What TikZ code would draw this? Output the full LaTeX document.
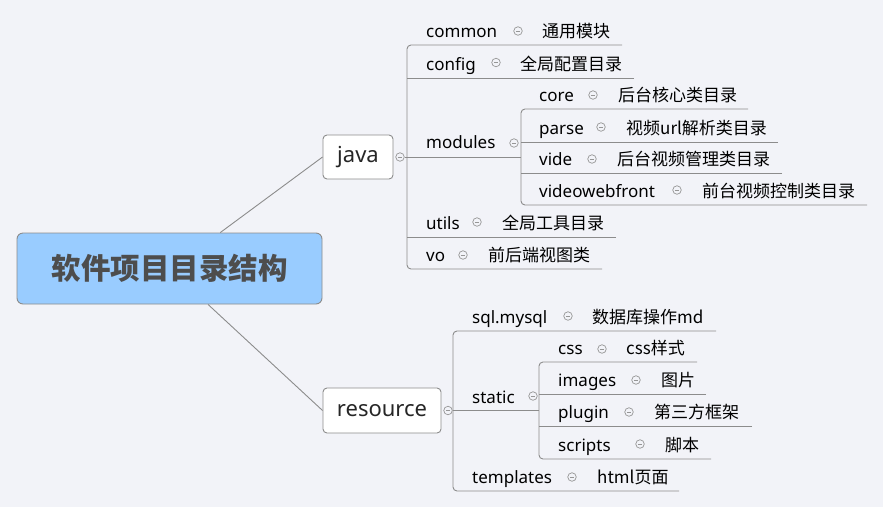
\documentclass[tikz,border=0pt]{standalone}
\usepackage{fontspec}
\setmainfont{Noto Sans}
\newfontfamily\cjk{Noto Sans CJK SC}
\usetikzlibrary{calc}
\definecolor{bg}{RGB}{242,243,248}
\definecolor{ln}{RGB}{140,140,140}
\definecolor{rootfill}{RGB}{153,204,255}
\definecolor{roottext}{RGB}{77,77,77}
\definecolor{tg}{RGB}{150,150,150}
\begin{document}
\begin{tikzpicture}[x=1pt,y=-1pt,
  conn/.style={draw=ln, line width=0.9pt},
  bracket/.style={conn, rounded corners=4pt},
  rootbox/.style={draw=ln, fill=rootfill, rounded corners=6pt, line width=0.9pt, minimum width=305pt, minimum height=71pt, inner sep=0pt, font=\cjk\bfseries\fontsize{29.5}{30}\selectfont, text=roottext},
  mainbox/.style={draw=ln, fill=white, rounded corners=4pt, line width=0.9pt, inner sep=0pt, font=\fontsize{22}{24}\selectfont, text=black!85},
  en/.style={anchor=base west, inner sep=0pt, font=\fontsize{17}{18}\selectfont},
  zh/.style={anchor=base west, inner sep=0pt, font=\cjk\fontsize{17}{18}\selectfont},
  tog/.style={circle, draw=tg, fill=bg, line width=0.7pt, minimum size=8.5pt, inner sep=0pt,
    path picture={\draw[tg, line width=0.7pt] ([xshift=2.2pt]path picture bounding box.west) -- ([xshift=-2.2pt]path picture bounding box.east);}}
]
\fill[bg] (0,0) rectangle (883,507);
\useasboundingbox (0,0) rectangle (883,507);

% main boxes
\node[rootbox] (root) at (169.5,268.5) {软件项目目录结构};
\node[mainbox, minimum width=70pt, minimum height=44pt] (java) at (358,157) {java};
\node[mainbox, minimum width=118pt, minimum height=45pt] (res) at (382,410.5) {resource};
\draw[conn] ($(root.north west)!0.666!(root.north east)$) -- (java.west);
\draw[conn] ($(root.south west)!0.626!(root.south east)$) -- (res.west);

% ---------- java group ----------
\coordinate (jv) at (407,157);
\coordinate (mv) at (521,157);
\coordinate (common-e) at (622,45);
\coordinate (config-e) at (634,78);
\coordinate (utils-e) at (616,237);
\coordinate (vo-e) at (602,269);
\coordinate (core-e) at (748,109);
\coordinate (parse-e) at (778,142);
\coordinate (vide-e) at (782,173);
\coordinate (vwf-e) at (867,205);

\draw[bracket] (common-e) -| (jv) |- (vo-e);
\draw[conn] (config-e) -- (config-e -| jv);
\draw[conn] (utils-e) -- (utils-e -| jv);
\draw[bracket] (core-e) -| (mv) |- (vwf-e);
\draw[conn] (parse-e) -- (parse-e -| mv);
\draw[conn] (vide-e) -- (vide-e -| mv);

\node[tog] (javat) at (400,157) {};
\draw[conn] (javat.east) -- (mv);

\node[en] (common) at (426,37) {common};
\node[tog] (common-t) at (518,31) {};
\node[zh] (common-d) at (542,37) {通用模块};

\node[en] (config) at (426,70) {config};
\node[tog] (config-t) at (496,62.5) {};
\node[zh] (config-d) at (520,70) {全局配置目录};

\node[en] (modules) at (426,148.5) {modules};
\node[tog] (modules-t) at (514,143) {};

\node[en] (core) at (539,101) {core};
\node[tog] (core-t) at (593,95) {};
\node[zh] (core-d) at (618,101) {后台核心类目录};

\node[en] (parse) at (539,134) {parse};
\node[tog] (parse-t) at (601,127) {};
\node[zh] (parse-d) at (626,134) {视频url解析类目录};

\node[en] (vide) at (539,165) {vide};
\node[tog] (vide-t) at (592,159) {};
\node[zh] (vide-d) at (617,165) {后台视频管理类目录};

\node[en] (vwf) at (539,197) {videowebfront};
\node[tog] (vwf-t) at (677,190) {};
\node[zh] (vwf-d) at (702,197) {前台视频控制类目录};

\node[en] (utils) at (426,229) {utils};
\node[tog] (utils-t) at (477,222) {};
\node[zh] (utils-d) at (502,229) {全局工具目录};

\node[en] (vo) at (426,261) {vo};
\node[tog] (vo-t) at (463,255) {};
\node[zh] (vo-d) at (488,261) {前后端视图类};

% ---------- resource group ----------
\coordinate (rv) at (453,410.5);
\coordinate (sv) at (539,410.5);
\coordinate (sql-e) at (716,331);
\coordinate (tpl-e) at (679,491);
\coordinate (css-e) at (697,362);
\coordinate (images-e) at (706,394);
\coordinate (plugin-e) at (752,426);
\coordinate (scripts-e) at (711,459);

\draw[bracket] (sql-e) -| (rv) |- (tpl-e);
\draw[bracket] (css-e) -| (sv) |- (scripts-e);
\draw[conn] (images-e) -- (images-e -| sv);
\draw[conn] (plugin-e) -- (plugin-e -| sv);

\node[tog] (rest) at (448,410.5) {};
\draw[conn] (rest.east) -- (sv);

\node[en] (sql) at (472,323) {sql.mysql};
\node[tog] (sql-t) at (568,316) {};
\node[zh] (sql-d) at (592,323) {数据库操作md};

\node[en] (static) at (472,403) {static};
\node[tog] (static-t) at (533,396) {};

\node[en] (css) at (558,354) {css};
\node[tog] (css-t) at (602,349) {};
\node[zh] (css-d) at (626,354) {css样式};

\node[en] (images) at (558,386) {images};
\node[tog] (images-t) at (636,380) {};
\node[zh] (images-d) at (661,386) {图片};

\node[en] (plugin) at (558,418) {plugin};
\node[tog] (plugin-t) at (629,412) {};
\node[zh] (plugin-d) at (654,418) {第三方框架};

\node[en] (scripts) at (558,451) {scripts};
\node[tog] (scripts-t) at (640,444) {};
\node[zh] (scripts-d) at (665,451) {脚本};

\node[en] (tpl) at (472,483) {templates};
\node[tog] (tpl-t) at (572,477) {};
\node[zh] (tpl-d) at (597,483) {html页面};
\end{tikzpicture}
\end{document}
